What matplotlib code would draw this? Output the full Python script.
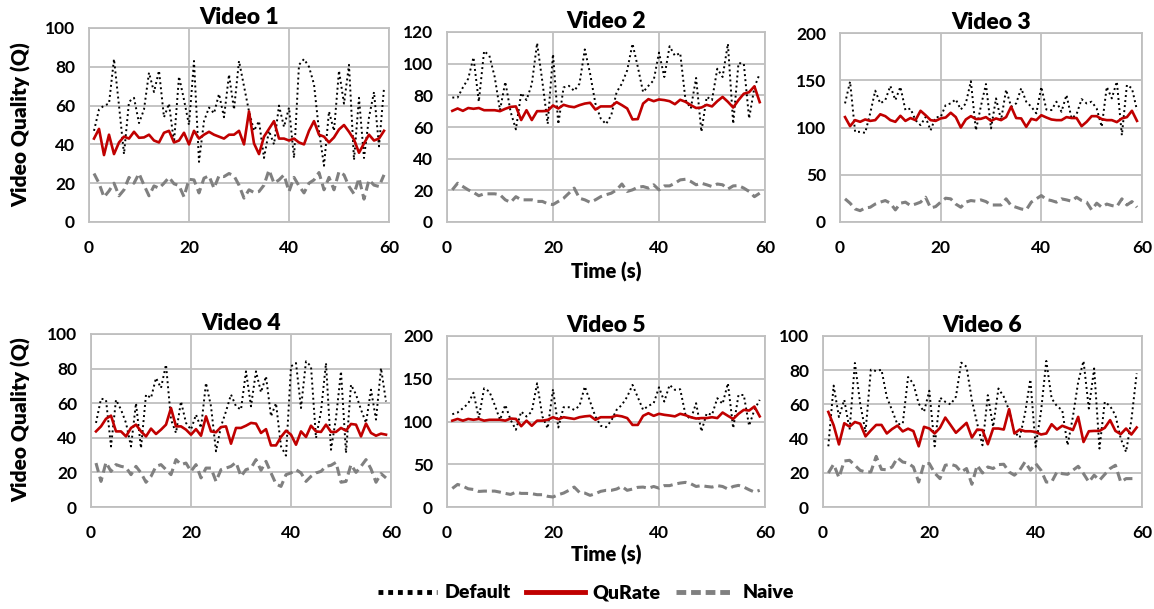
import matplotlib
matplotlib.use("Agg")
import matplotlib.pyplot as plt
from matplotlib.lines import Line2D

plt.rcParams['font.family'] = ['Lato', 'DejaVu Sans']
plt.rcParams['font.weight'] = 'bold'

# time axis (seconds)
seconds = list(range(1, 60))

# Video 1
v1_default = [47, 58, 60, 61, 84, 60, 35, 62, 64, 51, 58, 77, 67, 78, 54, 61, 41, 75, 63, 50,
              83, 31, 52, 59, 56, 66, 54, 76, 58, 83, 70, 57, 47, 52, 33, 47, 40, 60, 49, 59,
              33, 81, 84, 80, 71, 47, 29, 57, 47, 78, 61, 81, 32, 64, 33, 54, 67, 39, 69]
v1_qurate = [43, 48, 34.5, 45, 35, 41, 44, 43, 46.5, 43.4, 43.6, 45, 42, 41, 46, 47, 41, 42, 46, 40,
             47, 43, 45, 46.5, 45, 44, 43, 45, 45, 47, 40, 57, 40.5, 35, 44, 48, 52, 43, 43, 42,
             43, 41, 40, 47, 52, 45, 44, 41, 43.6, 47.7, 50, 46.5, 42.5, 35.7, 40.5, 45, 42, 43, 47]
v1_naive = [25, 20, 12.8, 16, 20, 13.5, 16.6, 23, 20, 25, 19, 13.5, 18.6, 17.4, 20, 23, 19.7, 18.8, 13, 22,
            21.7, 15, 22.6, 23.8, 17.4, 23.8, 23.4, 25, 23.8, 19, 12.3, 16.6, 15.2, 15.7, 19, 26.8, 20, 21.7, 24.3, 15.7,
            23, 18.6, 15, 20, 21.7, 25.5, 16.6, 23, 16.6, 26, 24.3, 18.3, 14.5, 22.6, 11.8, 21.7, 19, 18.3, 24.3]

# Video 2
v2_default = [78.6, 78.6, 85, 90.5, 104, 76, 108, 105, 91.6, 70.6, 88.5, 69.6, 58.5, 81.5, 77, 87, 113, 88.5, 62, 106,
              61.8, 85, 86, 82.8, 87.4, 109, 93.7, 74.8, 65.4, 61.8, 67.5, 82, 87.4, 95.8, 112.6, 98, 82, 86, 89.5, 107,
              91.6, 111, 105, 106.7, 77, 71.7, 91, 57, 79, 77, 96.8, 91.6, 112.6, 62, 100.4, 100, 65.4, 85, 93.7]
v2_qurate = [70.2, 71.7, 70.2, 72, 71.5, 72, 70.6, 70.6, 70.6, 70, 71.5, 72.7, 73, 64.4, 70.6, 64.4, 70, 70, 70.2, 73.6,
             71.7, 74, 73, 72.5, 73.8, 74.8, 75.3, 71, 73, 73, 73, 75.7, 73.8, 71.7, 64.8, 65, 74.8, 77.6, 76.3, 77.4,
             77, 76.3, 74.4, 77.2, 75.9, 73.8, 72, 72.3, 74, 73, 76.3, 79, 75.9, 72.3, 77, 81, 82, 85.7, 75.7]
v2_naive = [20.3, 24.5, 22.4, 20.3, 18.7, 16.6, 17.8, 17.8, 17.8, 17.2, 14, 12.4, 16, 14, 14, 14, 13, 13, 11.5, 11,
            13, 15, 18.2, 21.4, 15, 14, 12.4, 14, 16, 17.2, 18.2, 20.3, 24, 19.3, 20.3, 22, 22.4, 21.4, 23.5, 20.3,
            22.8, 22.8, 24.5, 26.6, 27, 25.6, 23.5, 24.5, 23.5, 22.4, 24, 23.5, 20.8, 22.8, 23, 21.4, 19.3, 16, 18.2]

# Video 3
v3_default = [125.5, 148.6, 95.4, 95.4, 94.3, 115, 139, 125.5, 129, 144, 129, 143, 118.4, 120, 107.8, 102.5, 111, 97, 111, 111,
              123.8, 125.5, 129.8, 119, 125.5, 149, 97, 122.7, 146, 99, 130.8, 107.8, 140, 122, 125.5, 141.5, 127.3, 122, 115, 143,
              119, 118.4, 127.3, 116.7, 134.4, 109.6, 114, 130, 125.5, 127.3, 120, 100.7, 143, 130.8, 148.6, 91.8, 145, 141.5, 118.4]
v3_qurate = [111, 101.4, 107.8, 106, 108.5, 107, 107.8, 114, 112, 107.8, 106, 112.4, 107, 110, 107.8, 117.7, 113, 107.8, 107, 109.6,
             110.6, 115.6, 111, 100, 108.5, 112, 108.9, 109.2, 111, 107, 109.6, 107.8, 111, 122, 110, 109.6, 100.7, 109.2, 107.8, 113,
             110.6, 108.5, 107.8, 107.8, 111, 110, 110, 101.4, 106, 112, 112, 108.9, 107.8, 107.8, 105.7, 109.6, 111, 117.7, 107]
v3_naive = [24.5, 19.9, 13.8, 12, 14.9, 15.6, 19, 21, 22.7, 19.9, 12.8, 19.9, 21, 17.4, 19, 21, 26.2, 14.9, 16.3, 21,
            25.2, 24.5, 19, 15.6, 21, 22.7, 22, 23.4, 21.6, 18, 18, 18, 24.5, 17.4, 15.6, 13.8, 12.8, 21, 24.5, 28,
            23.8, 22.7, 21, 24.5, 23.4, 22, 26.2, 22.7, 21, 12.8, 19.9, 15.6, 19, 17.4, 16.3, 24.5, 18, 21.6, 15.6]

# Video 4
v4_default = [48.6, 62.6, 62, 35, 62, 56.3, 48.6, 35, 60, 34, 65, 63, 74.6, 68.8, 82.3, 50.5, 42.8, 61, 48.6, 44.7,
              53.4, 45.7, 71.7, 58.2, 32.2, 46.6, 55.3, 65, 58.2, 56.3, 78.4, 58.2, 78.4, 66.3, 75.5, 52.4, 60, 35, 29.7, 81.3,
              83.2, 57.2, 84.2, 81.3, 39.9, 55.3, 83.2, 33.1, 51.4, 78.4, 31.2, 70.7, 65, 56.3, 48.6, 67.8, 50.5, 80.3, 61]
v4_qurate = [43.7, 46.6, 51, 52.8, 43.7, 43.7, 40.8, 45.7, 47.6, 43.7, 40.8, 45.3, 42.2, 44.7, 47.6, 57.2, 46.6, 46.6, 44.7, 41.8,
             45, 41.2, 52.4, 43.7, 43.2, 46.2, 46.6, 36.6, 45.7, 45.7, 47, 48.6, 48.2, 42.8, 45, 35.6, 35.6, 40.5, 44.1, 41.8,
             36, 43.7, 40.5, 47, 43.7, 43.4, 47.6, 43.4, 43.4, 45.7, 44.1, 48, 47.6, 40.8, 48.2, 42.8, 41.2, 42.4, 41.8]
v4_naive = [25.4, 14.8, 25.8, 20.6, 24.5, 23.5, 22.9, 18.7, 23.5, 19.7, 14.3, 17.7, 23.5, 24.5, 21.6, 18.7, 27.4, 24.5, 25.4, 20.6,
            24.5, 16.8, 22.5, 22.5, 14.8, 21.6, 22.5, 23.5, 25.8, 17.7, 21.6, 22.5, 27.4, 21.2, 26.4, 19.7, 13.3, 11.9, 18.7, 19.7,
            21.6, 19.7, 14.8, 17.7, 19.7, 20.6, 23.5, 24.1, 25.8, 14.3, 14.8, 24.5, 20, 23.5, 27.4, 22, 14.3, 19.3, 16.8]

# Video 5
v5_default = [108.5, 110.5, 115.5, 121, 133.7, 104, 138.8, 135, 119.4, 101.9, 119.4, 101.9, 90.3, 111.6, 105.8, 111.7, 144.7, 105.8, 92, 137.7,
              93, 116.7, 116.7, 113.6, 118.3, 140.9, 123.3, 105.8, 95, 93.4, 101, 113.6, 119.5, 129, 142.8, 128.4, 113.6, 118.3, 121.4, 140,
              123.3, 142.8, 137, 137.7, 107.8, 102.7, 121.4, 88.3, 109.7, 107.8, 127.2, 120.6, 144.7, 92.2, 131, 131, 95, 113.6, 125.3]
v5_qurate = [101, 103, 101, 103, 102, 103, 101, 102, 102, 102, 101, 103.5, 103, 94.5, 101, 95, 101, 101, 102, 105,
             102.7, 105, 104, 103, 105, 106, 106.6, 102, 105, 105, 105, 107, 106, 104, 96, 96, 106.6, 109.7, 106.6, 109,
             107.8, 107, 106, 109, 107.4, 105, 103.5, 104, 104, 105, 104, 110.5, 106.6, 103, 109, 113.6, 112.8, 117.5, 106]
v5_naive = [21.7, 26.4, 24.4, 21.3, 20.5, 18.2, 18.6, 18.6, 18.6, 17.4, 15.9, 14.7, 17.4, 15.9, 15.9, 15.6, 14.4, 14.4, 12.5, 11.7,
            14.4, 16.3, 19.5, 23.3, 17, 16.3, 13.6, 15.6, 18.3, 19.5, 19.5, 21, 24, 19.5, 21, 23, 23.3, 22, 24, 22,
            25, 25, 26.8, 28, 28.8, 27.2, 24, 25, 24, 23.3, 25, 24, 21, 24, 25.3, 23.3, 20.2, 17.5, 19.5]

# Video 6
v6_default = [35.5, 71, 52.6, 62.7, 45.2, 84.2, 60.4, 43.9, 80.3, 79.5, 80.3, 64.3, 56.5, 48.3, 48.7, 76, 72.1, 60.4, 55.7, 68,
              35.5, 64, 61.5, 60, 64.5, 84.4, 82, 62.5, 48.8, 36.1, 65.4, 46.9, 69.3, 64.5, 56.6, 43.9, 40.6, 54.7, 74.6, 35.2,
              55.7, 85.4, 63.5, 59, 56.6, 36.1, 52.7, 73.2, 85.4, 57.6, 81, 34.2, 61.5, 59, 53.7, 40, 32.2, 50.8, 78.1]
v6_qurate = [55.6, 47.8, 36.6, 49, 47, 49.7, 48.7, 41.3, 44.8, 48, 48, 43, 45.6, 47.6, 44.2, 45.8, 44.4, 35.5, 46.9, 45.9,
             43, 46.3, 52.3, 47.9, 43.4, 46.3, 49.2, 40.6, 45.3, 45, 36.7, 45.9, 45.9, 45.3, 57.2, 43, 45.3, 44.3, 44.3, 43.9,
             42.4, 43, 48.4, 45.3, 47.5, 46.3, 45, 52.7, 38, 44.3, 44.5, 44.5, 46.3, 50.8, 44.5, 42.6, 45.9, 42.4, 46.5]
v6_naive = [19.9, 25, 17.2, 26.9, 27.3, 24.4, 21.4, 20.5, 20.5, 29.6, 22, 21.8, 23.4, 28.8, 26.3, 25.7, 23.4, 14.6, 25.4, 25.4,
            19.9, 16.6, 24.4, 25, 24, 20.5, 22.5, 13.3, 24.4, 19.9, 23.4, 22.5, 24.8, 25, 20.5, 18.6, 21.5, 26.4, 21.5, 25.4,
            21.5, 14.6, 14.6, 20.5, 19.5, 19.1, 21.5, 23.8, 19.5, 14.6, 18.6, 15.6, 19.1, 22.5, 24.4, 14.6, 16.6, 16.6, 16.6]

titles = ['Video 1', 'Video 2', 'Video 3', 'Video 4', 'Video 5', 'Video 6']
defaults = [v1_default, v2_default, v3_default, v4_default, v5_default, v6_default]
qurates = [v1_qurate, v2_qurate, v3_qurate, v4_qurate, v5_qurate, v6_qurate]
naives = [v1_naive, v2_naive, v3_naive, v4_naive, v5_naive, v6_naive]
y_max = [100, 120, 200, 100, 200, 100]
y_step = [20, 20, 50, 20, 50, 20]

W, H = 1154, 609
# axes boxes in pixels: left, top, right, bottom
boxes = [(89, 28, 389, 222), (447, 32, 765, 222), (840, 33, 1142, 222),
         (91, 334, 391, 507), (447, 336, 765, 507), (823, 336, 1142, 507)]

RED = '#C00000'
GRAY = '#808080'
GRID = '#BFBFBF'
default_style = dict(color='black', lw=1.4, ls=(0, (1, 1.6)))
qurate_style = dict(color=RED, lw=1.9, ls='-')
naive_style = dict(color=GRAY, lw=2.2, ls=(0, (3, 1.6)))

fig = plt.figure(figsize=(W / 100, H / 100), dpi=100)

for i in range(6):
    l, t, r, b = boxes[i]
    ax = fig.add_axes([l / W, 1 - b / H, (r - l) / W, (b - t) / H])
    ax.plot(seconds, defaults[i], **default_style)
    ax.plot(seconds, naives[i], **naive_style)
    ax.plot(seconds, qurates[i], **qurate_style)
    ax.set_xlim(0, 60)
    ax.set_ylim(0, y_max[i])
    ax.set_xticks([0, 20, 40, 60])
    ax.set_yticks(list(range(0, y_max[i] + 1, y_step[i])))
    ax.grid(True, color=GRID, lw=1.3)
    ax.set_axisbelow(True)
    for s in ax.spines.values():
        s.set_color(GRID)
        s.set_linewidth(1.3)
    ax.tick_params(length=0, labelsize=12.5)
    ax.tick_params(axis='x', pad=13)
    ax.tick_params(axis='y', pad=10)
    ax.set_title(titles[i], fontsize=16.5, fontweight='heavy', pad=1)

# shared labels
fig.text(21 / W, 1 - 125 / H, 'Video Quality (Q)', rotation=90, ha='center', va='center',
         fontsize=15, fontweight='heavy')
fig.text(21 / W, 1 - 420 / H, 'Video Quality (Q)', rotation=90, ha='center', va='center',
         fontsize=15, fontweight='heavy')
fig.text(606 / W, 1 - 272 / H, 'Time (s)', ha='center', va='center', fontsize=14.5, fontweight='heavy')
fig.text(606 / W, 1 - 555 / H, 'Time (s)', ha='center', va='center', fontsize=14.5, fontweight='heavy')

handles = [Line2D([], [], color='black', lw=3.5, ls=(0, (1, 1))),
           Line2D([], [], color=RED, lw=3.5, ls='-'),
           Line2D([], [], color=GRAY, lw=3.5, ls=(0, (2, 1)))]
fig.legend(handles, ['Default', 'QuRate', 'Naive'], loc='center', bbox_to_anchor=(586 / W, 1 - 593 / H),
           ncol=3, frameon=False, handlelength=3.0, columnspacing=0.8, handletextpad=0.4,
           prop={'size': 14, 'weight': 'heavy'})

fig.savefig('out.png', dpi=100)
